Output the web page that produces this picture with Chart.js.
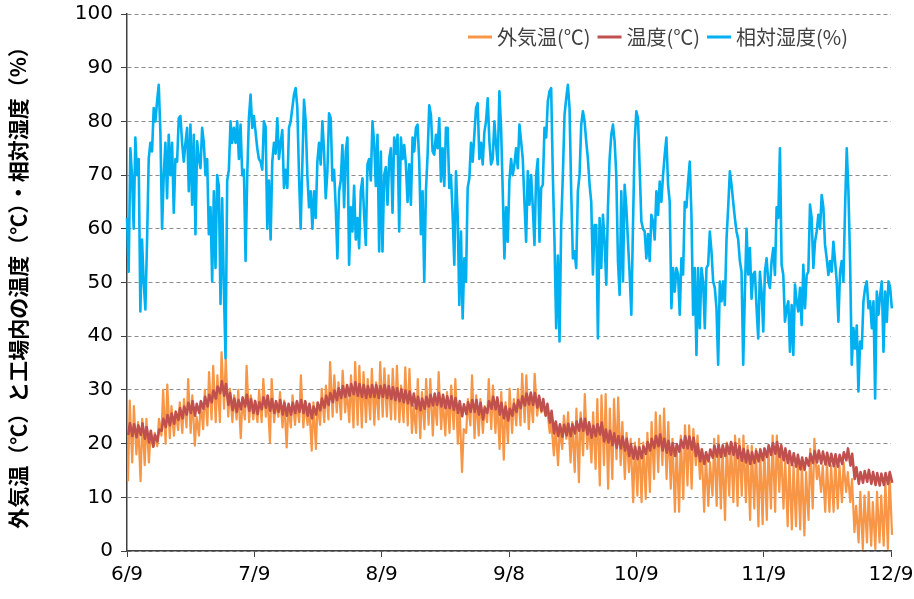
<!DOCTYPE html>
<html>
<head>
<meta charset="utf-8">
<script src="https://cdn.jsdelivr.net/npm/chart.js@4.4.1/dist/chart.umd.min.js"></script>
<style>
  html, body { margin: 0; padding: 0; background: #fff; }
  #wrap { width: 914px; height: 599px; position: relative; }
</style>
</head>
<body>
<div id="wrap"><canvas id="chart"></canvas></div>
<script>
// x tick positions (days from 6/9) and their labels
const tickDays = [0, 30.5, 61, 91.5, 122, 152.5, 183];
const tickLabels = ["6/9", "7/9", "8/9", "9/8", "10/9", "11/9", "12/9"];

// relative humidity (%), one reading every 0.4 day
const humStep = 0.4;
const humidity = [
  62,52,75,70,60,77,70,73,44.6,58, 50,45,57.6,73,76,74.4,82.5,80,83.7,86.8,
  78,60,70,76,65.7,77.5,70,76,63,73, 72.5,80.6,81,76,72.5,76,78.8,67,79.4,64.5,
  77.5,59,76.3,73,71.3,78.8,76,70,73,59, 64,50.2,67,52.7,70,68,46,65.7,49,35.9,
  69,71,80,76,78.8,76,80,73,79.4,70, 71,54,70,80.6,85,78.8,81,78,75,73, 72.5,
  71,80,79,60,69,58,72.5,76,74,80.6, 73,76,78.4,67.6,71,67.6,78.8,80,82.5,85,
  86.2,82.5,70,60,72,84,80,70,64,67, 60,67,62,72.5,76,72,80,74.4,65.7,70.7,
  81.5,80.6,69,71,64,54.5,67,69,75.6,64, 74.4,77,53.3,64,59.5,68,58,62,56.4,67,
  69.4,62.6,57,72,73,69,80,76,68,77.5, 55.8,74.4,55.8,70,71.5,64.5,73,75,
  63,77,74,77.5,59.5,77,73,75.6,72,65, 72,64.5,77,74.4,78.8,79.4,72.5,59,67,50.2,
  67,73.8,83,81.2,74.4,73.8,77.5,75,80.6,68.8, 75,68,78.8,78.8,67.6,70,62.6,53.3,70.7,62.6,
  45.8,59.5,43.3,54.5,50.2,67.6,69.4,76,72.5,77.5, 82.5,83.4,73,76,72,78,80,84.3,76.3,72,
  73,80,75.6,72,85.6,78.8,67,54.5,64,57.6, 69,73,70,72,75,71.3,
  79.4,76.3,73,65,57.6,70.7,64.5,70,64,57, 70,73,57.6,67.6,68.2,78.8,77,83.7,85.6,86.2,
  70,57.6,41.5,55,39,60.7,70,81.2,84.3,86.8, 82.5,67,54.5,55.8,52.7,67,70,79.4,81.9,80,
  76.3,73,68.2,65,51.5,60.7,60.7,39.6,62,52.7, 62.6,57.6,49.6,64,73,77.5,79.4,76.3,70,54,
  47.7,67,50.2,68.2,64,57.6,51.5,44,60.7,76.3, 81.9,80.6,71.3,61.4,60,59.5,
  54.5,59,54,62.6,61.4,58,67,62.6,68.8,65, 70,73.8,77,68.2,65,45.2,52.7,48.3,52.7,51.5,
  44,54.5,51.5,65,64,68.8,72.5,62.6,44,52.7, 36.5,52.7,41.5,52.7,50.2,41.5,52.7,53.3,59.5,55.8,
  50.2,49,45.2,34.7,50.2,46.5,50.2,45.8,58,64, 70.7,68.2,65,62,59.5,58,54,52,34.7,48.3,
  60,51.5,56.4,47,51.5,52,45.2,39.6,52,48.3, 40.9,52,54.5,50.2,49,54,
  56.4,51.4,64,62,75,53.3,51.4,42.7,45.2,46.5, 37.1,45.8,36.5,49.6,46.5,44.6,49,42.1,53.3,45.2,
  51.4,52,64.5,62,52.7,57.6,59.5,62.6,60,66.3, 64,57,54.5,51.4,54,52,57.6,54,50.2,42.7,
  52,54,50.2,64,75,67,54,34.7,41.5,37.7, 42,29.7,39,37.7,46.5,49,50.2,45.2,46.5,41.5,
  46.5,28.4,48.3,44,47.7,50.2,37.1,48.3,42.7,50.2, 49,45.2,52
];

// outside air temperature (°C): daily low and high, day 0 = 6/9
const outsideLow = [
  13,16.5,18,13,16,16.5,19.5,19.5,21.5,20, 21,21.5,22.5,22,23,22,19.6,21.5,22.7,23.4,
  24.5,24,24,26.5,25,24,24.5,21,24.5,24, 24.5,24,24,25,20.2,24,25,23,19.3,23,
  23.5,24,23,23.5,18.7,19,23.5,24,24.5,25, 25.8,24.5,25.8,24,23,23.5,23,24,24.5,23.5,
  24.5,25,25,24.5,24.5,24,24,23.4,22,22, 21,22.7,23.5,21.5,23.5,22.7,21.5,22,22.7,20,
  14.7,22,23.4,21,21.5,22,24,22.7,22,19, 17,20.2,22,23.4,23.4,24,22.7,24,25.2,25.8,
  25.2,22,17.8,16,19,20.9,16.5,14.7,12.8,17.8, 19,16.5,15.3,12.2,16,11.6,13.4,17.1,16,13.4,
  14.7,9.1,10.3,9.1,9.7,11,13.4,14.7,16,13.4, 11.6,7.3,7.3,9.7,12.2,11.6,16,13.4,7.3,8.4,
  10.3,8.4,7.9,5.8,10.3,9.1,8.4,10.3,9.1,5.8, 7.9,4.6,5,5.8,7.9,7.3,11,7.9,4.6,4,
  4.6,4,2.9,5.8,7.9,13.4,11,7.3,7.3,7.3, 7.9,9.1,11,9.1,3.5,1.6,0.4,1.6,1,0.4,
  1.6,1,0.4,3
];
const outsideHigh = [
  28,27,24,24.6,24.6,22,22,24.6,30,31, 27,26,27.7,28.3,32,29,25,27.7,30,33.3,
  34.5,32.7,37,35.8,30.2,29,30,28,34.5,29, 28,30,32,29,32,27.7,29.6,28,27,29,
  27.7,32.7,27.7,27,27.7,27.7,30.2,30.8,35.2,32.7, 31.4,33.6,30.2,32.7,35.2,34.5,33.3,32,33.9,31.4,
  35.2,34,32.7,33.9,34.5,30.8,34.2,33.9,27,32, 29.6,32,32,28.3,33.3,28.3,29.6,30.8,32,27,
  22.7,28.3,32.7,29,28.3,27,32,30.8,28.3,29.6, 27.7,30.2,28.3,30.2,33,32.7,29,33,28.3,27,
  26.5,24,23.4,22.7,25.2,25.8,24,26.5,25.8,29.2, 24,25.8,28.3,29,29.2,26.5,28.3,28.6,24,22,
  20.9,20.2,20.9,20.2,22,24,25.8,25.2,26.5,24, 20.9,19.6,21.5,23.4,23.4,22.7,21.5,19,17.8,16.5,
  20.9,21.5,19,20.2,20.2,21.5,20.9,21.5,19.6,19.6, 19,19,19,19,21.5,21.5,19.6,17.1,17.1,15.9,
  17.1,16.5,14.7,19,20.9,15.9,15.9,16.5,15.9,17.1, 15.9,16.5,14.7,13.4,8.4,11,10.3,11,9.1,11,
  10.3,13,14.5,13
];

// temperature inside the factory (°C): daily low and high
const insideLow = [
  21.6,21.4,21.2,21.6,20.9,20.2,19.4,20.4,22.4,23.1, 23.4,23.7,24.4,24.7,25.4,25.7,25.2,25.7,26.5,26.9,
  27.7,28.4,29.4,28.9,27.2,26.2,25.9,26.4,26.9,26.1, 25.7,25.5,26.4,26.7,26.1,25.7,25.9,25.4,25.2,25.4,
  25.7,25.9,25.7,25.2,24.7,25.4,26.2,26.7,27.2,27.7, 28.1,28.5,28.7,28.9,29.2,28.9,28.7,28.5,28.7,28.7,
  28.5,28.7,28.5,28.3,28.1,27.9,27.7,27.5,27.1,26.5, 26.2,26.5,26.9,27.1,27.2,26.9,26.6,26.6,26.3,25.7,
  25.1,25.5,25.9,25.9,25.4,24.5,25.7,26.5,26.4,25.4, 24.7,24.3,25.2,25.9,26.6,27.1,27.3,27.2,26.7,26.1,
  25.2,23.9,21.9,21.4,21.3,21.5,21.4,21.9,22.4,22.4, 21.7,21.1,21.4,21.7,20.4,20.2,19.7,19.2,19.1,18.7,
  17.7,17.2,17.1,17.3,18.1,18.7,19.2,19.5,18.7,18.3, 17.9,17.7,18.5,19.2,19.1,18.9,17.7,16.7,16.2,16.7,
  17.4,17.6,17.5,17.7,18.1,17.9,17.3,16.8,16.5,16.2, 16.4,16.7,16.9,17.5,17.9,18.1,17.5,16.9,16.4,16,
  15.7,15.2,15.1,15.9,16.4,16.5,16.3,16.1,15.9,15.8, 15.7,16.2,16.9,15.9,13.4,12.5,12.7,12.9,12.5,12.3,
  12.2,12.3,12.5,12.7
];
const insideHigh = [
  23.8,23.6,23.4,23.8,23.1,22.4,21.6,22.6,24.6,25.3, 25.6,25.9,26.6,26.9,27.6,27.9,27.4,27.9,28.7,29.1,
  29.9,30.6,31.6,31.1,29.4,28.4,28.1,28.6,29.1,28.3, 27.9,27.7,28.6,28.9,28.3,27.9,28.1,27.6,27.4,27.6,
  27.9,28.1,27.9,27.4,26.9,27.6,28.4,28.9,29.4,29.9, 30.3,30.7,30.9,31.1,31.4,31.1,30.9,30.7,30.9,30.9,
  30.7,30.9,30.7,30.5,30.3,30.1,29.9,29.7,29.3,28.7, 28.4,28.7,29.1,29.3,29.4,29.1,28.8,28.8,28.5,27.9,
  27.3,27.7,28.1,28.1,27.6,26.7,27.9,28.7,28.6,27.6, 26.9,26.5,27.4,28.1,28.8,29.3,29.5,29.4,28.9,28.3,
  27.4,26.1,24.1,23.6,23.5,23.7,23.6,24.1,24.6,24.6, 23.9,23.3,23.6,23.9,22.6,22.4,21.9,21.4,21.3,20.9,
  19.9,19.4,19.3,19.5,20.3,20.9,21.4,21.7,20.9,20.5, 20.1,19.9,20.7,21.4,21.3,21.1,19.9,18.9,18.4,18.9,
  19.6,19.8,19.7,19.9,20.3,20.1,19.5,19,18.7,18.4, 18.6,18.9,19.1,19.7,20.1,20.3,19.7,19.1,18.6,18.2,
  17.9,17.4,17.3,18.1,18.6,18.7,18.5,18.3,18.1,18, 17.9,18.4,19.1,18.1,15.6,14.7,14.9,15.1,14.7,14.5,
  14.4,14.5,14.7,14.9
];

const yTitle = "外気温（℃）と工場内の温度（℃）・相対湿度（%）";
const seriesNames = ["外気温(℃)", "温度(℃)", "相対湿度(%)"];
const seriesColors = ["#F79646", "#C0504D", "#00B0F0"];

// build point lists: each day has a morning low and an afternoon high
function dailyPoints(lows, highs, tLow, tHigh) {
  const pts = [];
  lows.forEach((lo, d) => {
    pts.push({ x: d + tLow, y: lo });
    pts.push({ x: d + tHigh, y: highs[d] });
  });
  return pts;
}
const outsidePts = dailyPoints(outsideLow, outsideHigh, 0.25, 0.65);
const insidePts = dailyPoints(insideLow, insideHigh, 0.3, 0.7);
const humidityPts = humidity.map((v, i) => ({ x: i * humStep, y: v }));

// legend drawn inside the plot, top right
const insideLegend = {
  id: "insideLegend",
  afterDraw(chart) {
    const ctx = chart.ctx;
    const area = chart.chartArea;
    ctx.save();
    ctx.font = "20px 'Noto Sans CJK JP'";
    ctx.textBaseline = "middle";
    const y = area.top + 23;
    let x = area.right - 423;
    seriesNames.forEach((name, i) => {
      ctx.strokeStyle = seriesColors[i];
      ctx.lineWidth = 3;
      ctx.beginPath();
      ctx.moveTo(x, y);
      ctx.lineTo(x + 24, y);
      ctx.stroke();
      ctx.fillStyle = "#404040";
      ctx.fillText(name, x + 29, y);
      x += 29 + ctx.measureText(name).width + 7;
    });
    ctx.restore();
  }
};

new Chart(document.getElementById("chart"), {
  type: "line",
  data: {
    datasets: [
      { label: seriesNames[0], data: outsidePts, borderColor: seriesColors[0], borderWidth: 2.2, order: 2 },
      { label: seriesNames[1], data: insidePts, borderColor: seriesColors[1], borderWidth: 2.6, order: 1 },
      { label: seriesNames[2], data: humidityPts, borderColor: seriesColors[2], borderWidth: 2.6, order: 0 }
    ]
  },
  options: {
    responsive: true,
    maintainAspectRatio: false,
    animation: false,
    layout: { padding: { top: 14, right: 23, left: 0, bottom: 0 } },
    elements: { point: { radius: 0 }, line: { tension: 0, borderJoinStyle: "round" } },
    datasets: { line: { clip: false } },
    plugins: { legend: { display: false }, tooltip: { enabled: false } },
    scales: {
      x: {
        type: "linear",
        min: 0,
        max: 183,
        afterBuildTicks: axis => { axis.ticks = tickDays.map(v => ({ value: v })); },
        afterFit: axis => { axis.height = 48; axis.paddingLeft = 0; axis.paddingRight = 0; },
        ticks: {
          callback: (v, i) => tickLabels[i],
          font: { family: "DejaVu Sans", size: 20 },
          color: "#000",
          padding: 6,
          maxRotation: 0
        },
        grid: { drawOnChartArea: false, color: "#404040", tickLength: 6 },
        border: { color: "#404040", width: 1.5 }
      },
      y: {
        min: 0,
        max: 100,
        afterFit: axis => { axis.width = 127; axis.paddingTop = 0; axis.paddingBottom = 0; },
        ticks: {
          stepSize: 10,
          font: { family: "DejaVu Sans", size: 20 },
          color: "#000",
          padding: 8
        },
        grid: { color: "#8c8c8c", tickColor: "#404040", tickLength: 6 },
        border: { color: "#404040", width: 1.5, dash: [4, 3] },
        title: {
          display: true,
          text: yTitle,
          font: { family: "Noto Sans CJK JP", size: 21, weight: "bold" },
          color: "#000",
          padding: { top: 5, bottom: 0 }
        }
      }
    }
  },
  plugins: [insideLegend]
});
</script>
</body>
</html>
